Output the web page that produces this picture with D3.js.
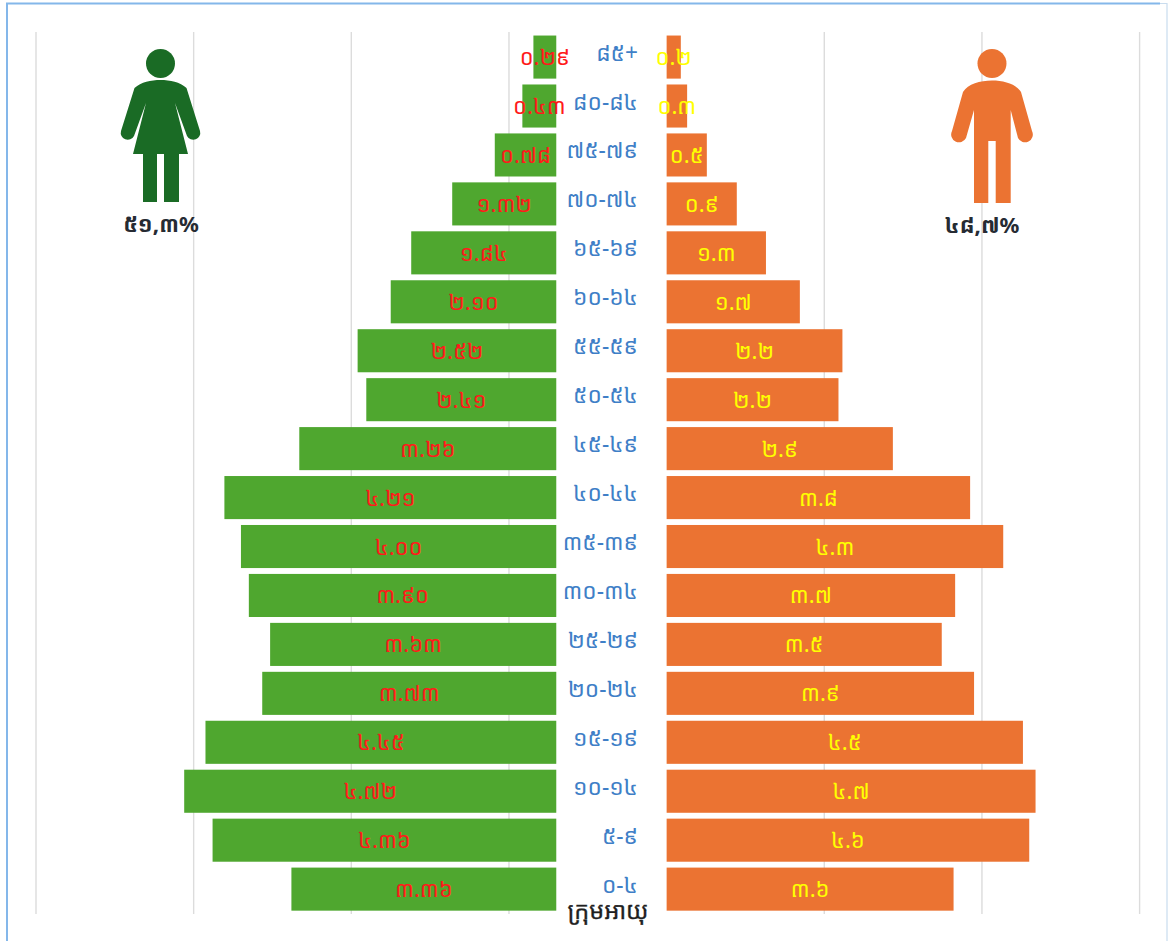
<!DOCTYPE html>
<html><head><meta charset="utf-8">
<style>html,body{margin:0;padding:0;background:#fff}svg{display:block}</style>
<script src="https://cdn.jsdelivr.net/npm/d3@7/dist/d3.min.js"></script>
</head><body><svg id="c" width="1168" height="941"></svg>
<script>
const ageGroups=["៨៥+","៨០-៨៤","៧៥-៧៩","៧០-៧៤","៦៥-៦៩","៦០-៦៤","៥៥-៥៩","៥០-៥៤","៤៥-៤៩","៤០-៤៤","៣៥-៣៩","៣០-៣៤","២៥-២៩","២០-២៤","១៥-១៩","១០-១៤","៥-៩","០-៤"];
const femaleValues=[0.29,0.43,0.78,1.32,1.84,2.10,2.52,2.41,3.26,4.21,4.00,3.90,3.63,3.73,4.45,4.72,4.36,3.36];
const femaleLabels=["០.២៩","០.៤៣","០.៧៨","១.៣២","១.៨៤","២.១០","២.៥២","២.៤១","៣.២៦","៤.២១","៤.០០","៣.៩០","៣.៦៣","៣.៧៣","៤.៤៥","៤.៧២","៤.៣៦","៣.៣៦"];
const maleValues=[0.18,0.26,0.51,0.89,1.26,1.69,2.23,2.18,2.87,3.85,4.27,3.66,3.49,3.90,4.52,4.68,4.60,3.64];
const maleLabels=["០.២","០.៣","០.៥","០.៩","១.៣","១.៧","២.២","២.២","២.៩","៣.៨","៤.៣","៣.៧","៣.៥","៣.៩","៤.៥","៤.៧","៤.៦","៣.៦"];
const gridTicks=[-8,-6,-4,-2,2,4,6];
const labelGap=1.40;
const femaleShare="៥១,៣%", maleShare="៤៨,៧%", axisTitle="ក្រុមអាយុ";

const font="'Noto Sans Khmer','Khmer OS','DejaVu Sans','Noto Sans',sans-serif";
const svg=d3.select("#c");
const x=d3.scaleLinear().domain([-8,6]).range([36,1139.6]);
const y=d3.scaleBand().domain(ageGroups).range([32.6,913.6]).paddingInner(0.12).paddingOuter(0.06);

svg.append("path").attr("d","M7,941V3.5H1160").attr("fill","none").attr("stroke","#84b7ea").attr("stroke-width",2);
svg.append("path").attr("d","M1160,3.5H1167V941").attr("fill","none").attr("stroke","#c9dcee").attr("stroke-width",1.2);

svg.append("g").selectAll("line").data(gridTicks).join("line")
 .attr("x1",d=>x(d)).attr("x2",d=>x(d)).attr("y1",32).attr("y2",914)
 .attr("stroke","#dcdcdc").attr("stroke-width",1.4);

svg.append("g").selectAll("rect").data(ageGroups).join("rect")
 .attr("x",(d,i)=>x(-labelGap-femaleValues[i])).attr("y",d=>y(d))
 .attr("width",(d,i)=>x(0)-x(femaleValues[i]*-1)).attr("height",y.bandwidth()).attr("fill","#4fa72f");
svg.append("g").selectAll("rect").data(ageGroups).join("rect")
 .attr("x",x(0)).attr("y",d=>y(d))
 .attr("width",(d,i)=>x(maleValues[i])-x(0)).attr("height",y.bandwidth()).attr("fill","#eb7332");

const lab=(sel)=>sel.attr("font-family",font).attr("dominant-baseline","central");
lab(svg.append("g").selectAll("text").data(ageGroups).join("text"))
 .attr("x",638).attr("y",d=>y(d)+y.bandwidth()/2-5).attr("text-anchor","end")
 .attr("font-size",22.7).attr("fill","#3f7fc7").text(d=>d);
lab(svg.append("g").selectAll("text").data(femaleLabels).join("text"))
 .attr("x",(d,i)=>x(-labelGap-femaleValues[i]/2)).attr("y",(d,i)=>y(ageGroups[i])+y.bandwidth()/2-1)
 .attr("text-anchor","middle").attr("font-size",22).attr("fill","#ff1a1a").text(d=>d);
lab(svg.append("g").selectAll("text").data(maleLabels).join("text"))
 .attr("x",(d,i)=>x(maleValues[i]/2)).attr("y",(d,i)=>y(ageGroups[i])+y.bandwidth()/2-1)
 .attr("text-anchor","middle").attr("font-size",22).attr("fill","#ffff00").text(d=>d);

lab(svg.append("text")).attr("x",161).attr("y",223).attr("text-anchor","middle").attr("font-size",22).attr("font-weight",700).attr("fill","#262b33").text(femaleShare);
lab(svg.append("text")).attr("x",982).attr("y",224).attr("text-anchor","middle").attr("font-size",22).attr("font-weight",700).attr("fill","#262b33").text(maleShare);
lab(svg.append("text")).attr("x",608).attr("y",909.5).attr("text-anchor","middle").attr("font-size",23.5).attr("fill","#1f1f1f").attr("stroke","#1f1f1f").attr("stroke-width",0.35).text(axisTitle);

// icons
const gF=svg.append("g").attr("fill","#1a6b25");
gF.append("circle").attr("cx",160.5).attr("cy",63.5).attr("r",14.5);
gF.append("path").attr("d","M160.5,80C151,80 141,82 134.5,88L121,131A7,7 0 0 0 134,136L146,103L133,154H143V202H157V154H164V202H179V154H188L175,103L187,136A7,7 0 0 0 200,131L186.5,88C180,82 170,80 160.5,80Z");
const gM=svg.append("g").attr("fill","#eb7332");
gM.append("circle").attr("cx",992).attr("cy",63.5).attr("r",14.5);
gM.append("path").attr("d","M992,80.5C980,80.5 968,84 963,92L952,131A7.3,7.3 0 0 0 966,138L974,110V203H988.3V141H995.7V203H1010.7V110L1018,138A7.3,7.3 0 0 0 1032,131L1021,92C1016,84 1004,80.5 992,80.5Z");
</script></body></html>
